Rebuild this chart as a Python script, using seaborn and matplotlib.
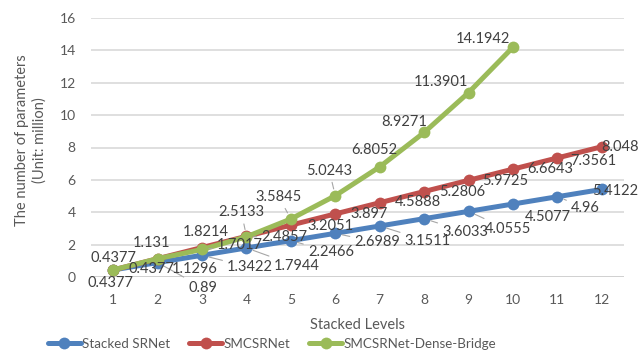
import matplotlib
matplotlib.use("Agg")
import matplotlib.pyplot as plt
from matplotlib.lines import Line2D
import numpy as np
import pandas as pd
import seaborn as sns

# ---- data -------------------------------------------------------------
levels = list(range(1, 13))
series_names = ["Stacked SRNet", "SMCSRNet", "SMCSRNet-Dense-Bridge"]
stacked_srnet = [0.4377, 0.89, 1.3422, 1.7944, 2.2466, 2.6989,
                 3.1511, 3.6033, 4.0555, 4.5077, 4.96, 5.4122]
smcsrnet = [0.4377, 1.1296, 1.8214, 2.5133, 3.2051, 3.897,
            4.5888, 5.2806, 5.9725, 6.6643, 7.3561, 8.048]
dense_bridge = [0.4377, 1.131, 1.7017, 2.4857, 3.5845, 5.0243,
                6.8052, 8.9271, 11.3901, 14.1942]
y_ticks = [0, 2, 4, 6, 8, 10, 12, 14, 16]

# ---- label placement (pixel offsets from each marker, y downward) ------
blue_offsets = [(-3, 13), (45, 25), (48, 12), (50, 18), (40, 11), (42, 9),
                (48, 15), (41, 13), (39, 18), (35, 13), (28, 11), (13, 2)]
blue_leaders = [False, True, True, True, True, True,
                True, True, True, False, True, False]
red_offsets = [(38, -1), (37, 10), (4, -16), (-5, -24), (40, 1), (34, 0),
               (38, -1), (38, 0), (37, 1), (37, 0), (36, 3), (18, 0)]
red_leaders = [False, False, False, True, False, False,
               False, False, False, False, False, False]
green_offsets = [(0, -12), (-6, -16), (38, -4), (38, 0), (-12, -22), (-6, -25),
                 (-5, -17), (-20, -10), (-28, -11), (-30, -8)]
green_leaders = [False, False, True, True, True, True,
                 False, False, False, False]

colors = ["#4F81BD", "#C0504D", "#9BBB59"]
text_color = "#595959"

# ---- tidy frame -------------------------------------------------------
values = [stacked_srnet, smcsrnet, dense_bridge]
df = pd.concat(
    [pd.DataFrame({"level": levels[:len(v)], "params": v, "model": name})
     for name, v in zip(series_names, values)],
    ignore_index=True,
)

sns.set_theme(style="white")
plt.rcParams["font.family"] = ["Lato", "DejaVu Sans"]

W, H = 641, 353
fig = plt.figure(figsize=(W / 100, H / 100), dpi=100)
ax = fig.add_axes([91 / W, 1 - 277 / H, (624 - 91) / W, (277 - 18) / H])

sns.lineplot(data=df, x="level", y="params", hue="model",
             hue_order=series_names, palette=colors,
             marker="o", markersize=8.5, markeredgewidth=0,
             linewidth=3.6, legend=False, ax=ax, zorder=3)

ax.set_xlim(0.5, 12.5)
ax.set_ylim(0, 16)
ax.set_xticks(levels)
ax.set_yticks(y_ticks)
ax.set_xlabel("")
ax.set_ylabel("")
for s in ax.spines.values():
    s.set_visible(False)
ax.yaxis.grid(True, color="#D9D9D9", linewidth=1.2, zorder=0)
ax.set_axisbelow(True)
ax.axhline(0, color="#D0D0D0", linewidth=1.3, zorder=1)
ax.tick_params(axis="both", length=0, labelsize=10, colors=text_color)
ax.tick_params(axis="x", pad=12)
ax.tick_params(axis="y", pad=11)

# ---- data labels ------------------------------------------------------
px = 0.72  # points per pixel at 100 dpi
for vals, offs, leads in [(stacked_srnet, blue_offsets, blue_leaders),
                          (smcsrnet, red_offsets, red_leaders),
                          (dense_bridge, green_offsets, green_leaders)]:
    for lvl, v, (dx, dy), lead in zip(levels, vals, offs, leads):
        arrow = (dict(arrowstyle="-", color="#A6A6A6", lw=0.8,
                      shrinkA=1, shrinkB=5) if lead else None)
        ax.annotate(f"{v:g}", xy=(lvl, v),
                    xytext=(dx * px, -dy * px), textcoords="offset points",
                    ha="center", va="center", fontsize=10.5,
                    color="#404040", annotation_clip=False,
                    arrowprops=arrow, zorder=5)

# ---- axis titles --------------------------------------------------------
fig.text(31 / W, 1 - 140 / H, "The number of parameters\n(Unit: million)",
         rotation=90, ha="center", va="center", fontsize=10.5,
         color=text_color, multialignment="center", linespacing=1.3)
fig.text(357 / W, 1 - 325 / H, "Stacked Levels", ha="center", va="center",
         fontsize=10.5, color=text_color)

# ---- legend -------------------------------------------------------------
handles = [Line2D([0], [0], color=c, linewidth=3.6, marker="o",
                  markersize=8.5, markeredgewidth=0) for c in colors]
fig.legend(handles, series_names, loc="center", ncol=3,
           bbox_to_anchor=(272 / W, 1 - 344 / H), frameon=False,
           fontsize=9.6, labelcolor=text_color, handlelength=2.5,
           handletextpad=0.1, columnspacing=1.4, borderaxespad=0)

fig.savefig("out.png", dpi=100)
